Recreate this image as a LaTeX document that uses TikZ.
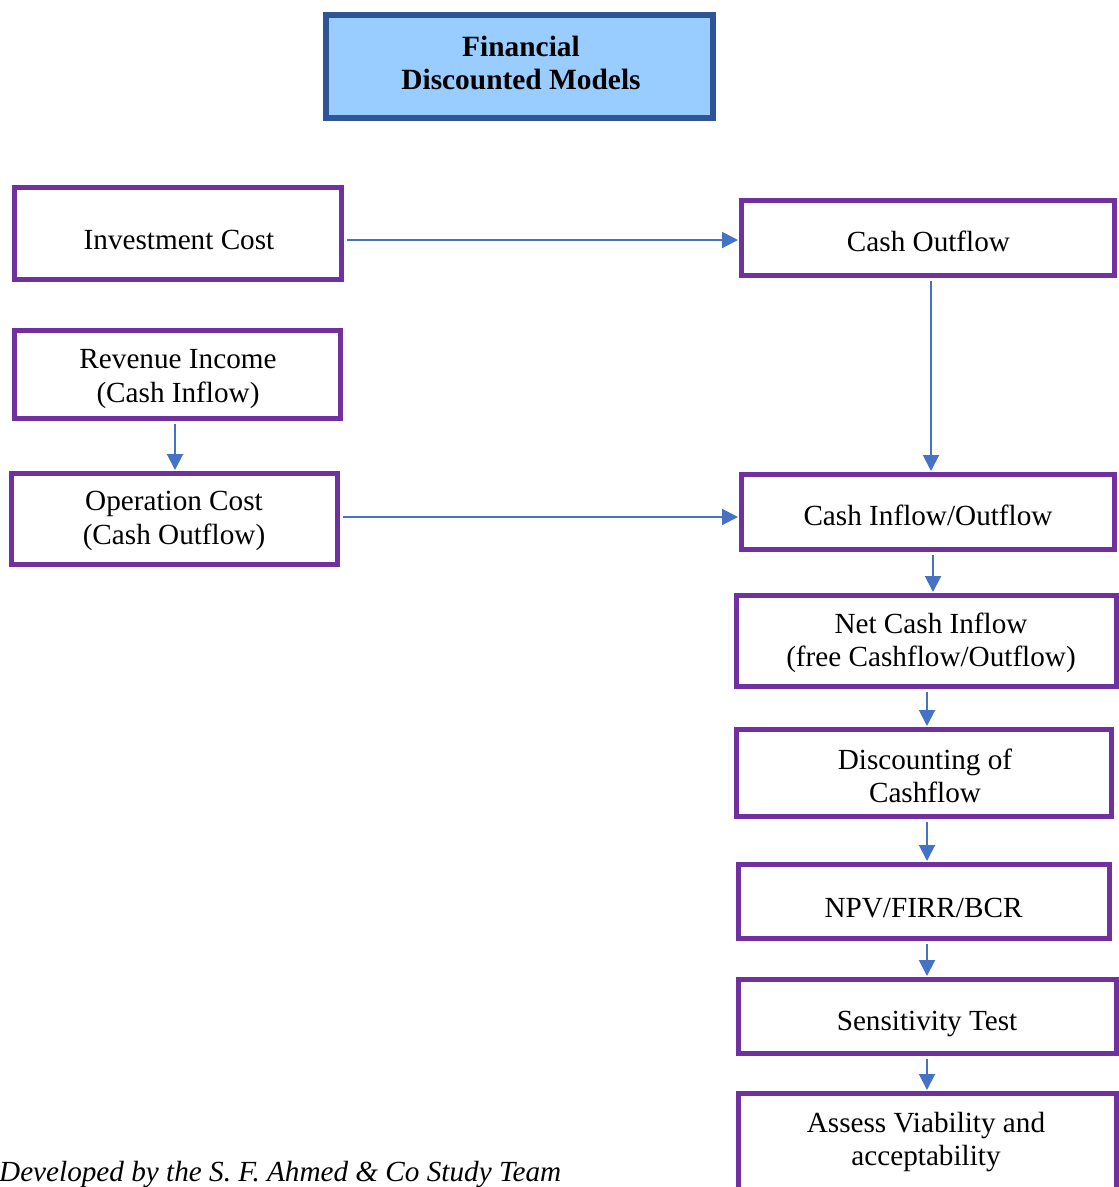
\documentclass[tikz,border=0pt]{standalone}
\usepackage{fontspec}
\setmainfont{Liberation Serif}
\usetikzlibrary{arrows.meta}
\definecolor{purp}{RGB}{112,48,160}
\definecolor{arrblue}{RGB}{68,114,196}
\definecolor{titlefill}{RGB}{153,204,255}
\definecolor{titledraw}{RGB}{47,85,151}
\tikzset{
  box/.style={draw=purp, line width=5pt, inner sep=0pt},
  titlebox/.style={draw=titledraw, fill=titlefill, line width=6pt, inner sep=0pt},
  txt/.style={align=center, inner sep=0pt, font=\fontsize{29.2}{33.5}\selectfont},
  arr/.style={draw=arrblue, line width=2pt, -{Triangle[length=16pt,width=16pt]}, shorten <=2.5pt, shorten >=1pt},
}
\begin{document}
\begin{tikzpicture}[x=1pt,y=-1pt]
\useasboundingbox (0,0) rectangle (1119,1187);
\clip (0,0) rectangle (1119,1187);
% title
\node[titlebox, minimum width=387pt, minimum height=103pt] (title) at (519.5,66.5) {};
\node[txt, font=\fontsize{29.4}{33.5}\selectfont\bfseries] (titlet) at (521,63) {Financial\\Discounted Models};
% boxes
\node[box, minimum width=327pt, minimum height=92pt] (inv) at (178,233.5) {};
\node[txt] (invt) at (179,240) {Investment Cost};
\node[box, minimum width=373pt, minimum height=75pt] (cout) at (928,238) {};
\node[txt] (coutt) at (928.5,241) {Cash Outflow};
\node[box, minimum width=326pt, minimum height=88pt] (rev) at (177.5,374.5) {};
\node[txt] (revt) at (178,379) {Revenue Income\\(Cash Inflow)};
\node[box, minimum width=326pt, minimum height=91pt] (op) at (174.5,519) {};
\node[txt] (opt) at (174,521) {Operation Cost\\(Cash Outflow)};
\node[box, minimum width=373pt, minimum height=75pt] (cio) at (928,512) {};
\node[txt] (ciot) at (928,515) {Cash Inflow/Outflow};
\node[box, minimum width=380pt, minimum height=91pt] (net) at (926.5,641) {};
\node[txt] (nett) at (931,643) {Net Cash Inflow\\(free Cashflow/Outflow)};
\node[box, minimum width=375pt, minimum height=87pt] (disc) at (924,773) {};
\node[txt] (disct) at (925,776) {Discounting of\\Cashflow};
\node[box, minimum width=371pt, minimum height=74pt] (npv) at (924,901.5) {};
\node[txt] (npvt) at (923.5,908) {NPV/FIRR/BCR};
\node[box, minimum width=378pt, minimum height=74pt] (sens) at (927.5,1016.5) {};
\node[txt] (senst) at (927,1024) {Sensitivity Test};
\node[box, minimum width=378pt, minimum height=110pt] (ass) at (927.5,1148.5) {};
\node[txt] (asst) at (926,1142) {Assess Viability and\\acceptability};
% footer
\node[txt, anchor=base west, font=\fontsize{29.2}{34}\selectfont\itshape] (foot) at (-1,1181) {Developed by the S. F. Ahmed \& Co Study Team};
% arrows
\draw[arr] (inv.east |- 0,240) -- (cout.west |- 0,240);
\draw[arr] (op.east |- 0,517) -- (cio.west |- 0,517);
\draw[arr] (cout.south -| 931,0) -- (cio.north -| 931,0);
\draw[arr] (rev.south -| 175,0) -- (op.north -| 175,0);
\draw[arr] (cio.south -| 933,0) -- (net.north -| 933,0);
\draw[arr] (net.south -| 927,0) -- (disc.north -| 927,0);
\draw[arr] (disc.south -| 927,0) -- (npv.north -| 927,0);
\draw[arr] (npv.south -| 927,0) -- (sens.north -| 927,0);
\draw[arr] (sens.south -| 927,0) -- (ass.north -| 927,0);
\end{tikzpicture}
\end{document}
